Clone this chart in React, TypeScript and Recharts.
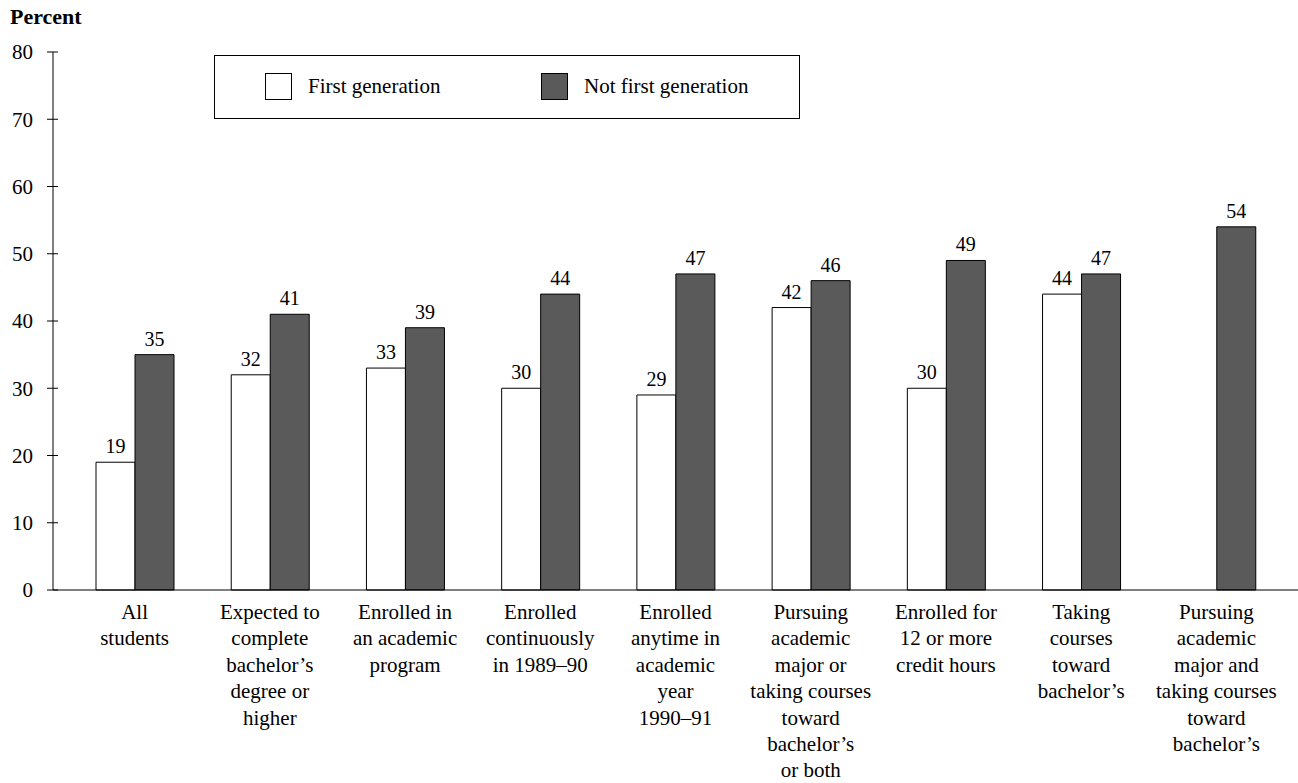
import React from "react";
import { BarChart, Bar, XAxis, YAxis, LabelList } from "recharts";

const categories: string[] = [
  "All\nstudents",
  "Expected to\ncomplete\nbachelor’s\ndegree or\nhigher",
  "Enrolled in\nan academic\nprogram",
  "Enrolled\ncontinuously\nin 1989–90",
  "Enrolled\nanytime in\nacademic\nyear\n1990–91",
  "Pursuing\nacademic\nmajor or\ntaking courses\ntoward\nbachelor’s\nor both",
  "Enrolled for\n12 or more\ncredit hours",
  "Taking\ncourses\ntoward\nbachelor’s",
  "Pursuing\nacademic\nmajor and\ntaking courses\ntoward\nbachelor’s",
];
const firstGeneration: (number | null)[] = [19, 32, 33, 30, 29, 42, 30, 44, null];
const notFirstGeneration: number[] = [35, 41, 39, 44, 47, 46, 49, 47, 54];
const yTicks: number[] = [0, 10, 20, 30, 40, 50, 60, 70, 80];

const seriesNames = { first: "First generation", notFirst: "Not first generation" };

const data = categories.map((c, i) => ({
  category: c,
  first: firstGeneration[i],
  notFirst: notFirstGeneration[i],
}));

const FONT = "'Liberation Serif', 'Times New Roman', serif";
const DARK = "#5a5a5a";

const XTick = (props: any) => {
  const { x, y, payload } = props;
  const lines = String(payload.value).split("\n");
  return (
    <text x={x} y={y} textAnchor="middle" fontFamily={FONT} fontSize={21} fill="#000">
      {lines.map((l, i) => (
        <tspan key={i} x={x} dy={i === 0 ? 29 : 26.4}>
          {l}
        </tspan>
      ))}
    </text>
  );
};

const YTick = (props: any) => {
  const { x, y, payload } = props;
  return (
    <g>
      <line x1={x - 6} x2={x + 5} y1={y} y2={y} stroke="#000" strokeWidth={1} />
      <text x={x - 20} y={y} dy="0.35em" textAnchor="end" fontFamily={FONT} fontSize={21} fill="#000">
        {payload.value}
      </text>
    </g>
  );
};

const LegendBox = () => (
  <div
    style={{
      position: "absolute",
      left: 214,
      top: 55,
      width: 586,
      height: 64,
      border: "1px solid #000",
      boxSizing: "border-box",
      fontFamily: FONT,
      fontSize: 21,
      color: "#000",
      background: "#fff",
      zIndex: 2,
    }}
  >
    <div style={{ position: "absolute", left: 50, top: 17, width: 27, height: 27, border: "1px solid #000", background: "#fff", boxSizing: "border-box" }} />
    <div style={{ position: "absolute", left: 93, top: 17, lineHeight: "27px", whiteSpace: "nowrap" }}>{seriesNames.first}</div>
    <div style={{ position: "absolute", left: 326, top: 17, width: 27, height: 27, border: "1px solid #000", background: DARK, boxSizing: "border-box" }} />
    <div style={{ position: "absolute", left: 369, top: 17, lineHeight: "27px", whiteSpace: "nowrap" }}>{seriesNames.notFirst}</div>
  </div>
);

export default function App() {
  return (
    <div style={{ position: "absolute", left: 0, top: 0, width: 1298, height: 783, background: "#fff" }}>
      <div
        style={{
          position: "absolute",
          left: 10,
          top: 4,
          fontFamily: FONT,
          fontWeight: "bold",
          fontSize: 22,
          color: "#000",
          zIndex: 2,
        }}
      >
        Percent
      </div>
      <LegendBox />
      <BarChart
        width={1298}
        height={783}
        data={data}
        margin={{ top: 52, right: 0, bottom: 0, left: 0 }}
        barCategoryGap={29}
        barGap={0}
      >
        <XAxis
          dataKey="category"
          interval={0}
          height={193}
          padding={{ left: 14, right: 14 }}
          axisLine={{ stroke: "#000", strokeWidth: 1 }}
          tickLine={false}
          tickSize={0}
          tickMargin={0}
          tick={<XTick />}
        />
        <YAxis
          width={53}
          domain={[0, 80]}
          ticks={yTicks}
          interval={0}
          axisLine={{ stroke: "#000", strokeWidth: 1 }}
          tickLine={false}
          tickSize={0}
          tickMargin={0}
          tick={<YTick />}
        />
        <Bar dataKey="first" name={seriesNames.first} fill="#fff" stroke="#000" strokeWidth={1} isAnimationActive={false}>
          <LabelList dataKey="first" position="top" offset={9} fontFamily={FONT} fontSize={20} fill="#000" />
        </Bar>
        <Bar dataKey="notFirst" name={seriesNames.notFirst} fill={DARK} stroke="#000" strokeWidth={1} isAnimationActive={false}>
          <LabelList dataKey="notFirst" position="top" offset={9} fontFamily={FONT} fontSize={20} fill="#000" />
        </Bar>
      </BarChart>
    </div>
  );
}
